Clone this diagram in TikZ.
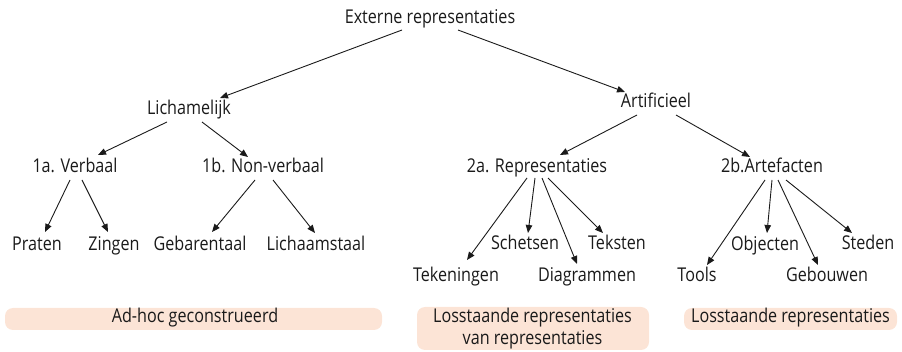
\documentclass[tikz,border=0pt]{standalone}
\usepackage{fontspec}
\setmainfont{Open Sans}[FakeStretch=0.85]
\usetikzlibrary{arrows.meta}
\definecolor{ink}{HTML}{1A1A1A}
\definecolor{peach}{HTML}{FCE4D6}
\tikzset{
  lbl/.style={anchor=base, inner sep=0pt, text=ink, font=\fontsize{19}{22}\selectfont},
  link/.style={draw=ink, line width=0.9pt, -{Triangle[length=8pt,width=6.5pt]}},
  band/.style={fill=peach, rounded corners=8pt},
  bandtext/.style={lbl, align=center},
}
% arrow from node #1 (offset #2) to node #3 (offset #4), offsets taken from the text base point
\newcommand{\arrowlink}[4]{\draw[link] ([shift={(#2)}]#1.base) -- ([shift={(#4)}]#3.base);}
\begin{document}
\begin{tikzpicture}[x=1pt,y=-1pt]
\useasboundingbox (0,0) rectangle (902,352);

% tree labels
\node[lbl] (ext)  at (430,24)  {Externe representaties};
\node[lbl] (lich) at (189,115) {Lichamelijk};
\node[lbl] (art)  at (656,108) {Artificieel};
\node[lbl] (verb) at (75,173)  {1a. Verbaal};
\node[lbl] (nonv) at (263,173) {1b. Non-verbaal};
\node[lbl] (repr) at (537,173) {2a. Representaties};
\node[lbl] (arte) at (772,173) {2b.Artefacten};
\node[lbl] (prat) at (37,251)  {Praten};
\node[lbl] (zing) at (114,251) {Zingen};
\node[lbl] (geba) at (200,251) {Gebarentaal};
\node[lbl] (lcht) at (316,251) {Lichaamstaal};
\node[lbl] (sche) at (525,250) {Schetsen};
\node[lbl] (teks) at (617,250) {Teksten};
\node[lbl] (teke) at (456,282) {Tekeningen};
\node[lbl] (diag) at (587,282) {Diagrammen};
\node[lbl] (obje) at (765,251) {Objecten};
\node[lbl] (sted) at (868,250) {Steden};
\node[lbl] (tool) at (697,282) {Tools};
\node[lbl] (gebo) at (827,282) {Gebouwen};

% connectors
\arrowlink{ext}{-28,6}{lich}{31,-17}
\arrowlink{ext}{28,6}{art}{-31,-16}
\arrowlink{lich}{-22,7}{verb}{23,-18}
\arrowlink{lich}{13,7}{nonv}{-15,-16}
\arrowlink{art}{-19,7}{repr}{23,-18}
\arrowlink{art}{20,7}{arte}{-22,-16}
\arrowlink{verb}{-5,7}{prat}{8,-19}
\arrowlink{verb}{7,7}{zing}{-6,-19}
\arrowlink{nonv}{-8,7}{geba}{12,-19}
\arrowlink{nonv}{10,7}{lcht}{-1,-18}
\arrowlink{repr}{-10,5}{teke}{11,-22}
\arrowlink{repr}{-2,5}{sche}{3,-17}
\arrowlink{repr}{5,5}{diag}{-10,-18}
\arrowlink{repr}{11,5}{teks}{-14,-17}
\arrowlink{arte}{-7,7}{tool}{10,-17}
\arrowlink{arte}{0,7}{obje}{2,-18}
\arrowlink{arte}{6,7}{gebo}{-9,-17}
\arrowlink{arte}{14,7}{sted}{-16,-17}

% category bands
\path[band] (5,308) rectangle (382,330);
\path[band] (417,307) rectangle (649,350);
\path[band] (684,308) rectangle (897,330);
\node[bandtext] (adhoc) at (195,323) {Ad-hoc geconstrueerd};
\node[bandtext] (losvan) at (532.5,323) {Losstaande representaties};
\node[bandtext] (losvan2) at (532.5,345) {van representaties};
\node[bandtext] (los) at (790.5,323) {Losstaande representaties};
\end{tikzpicture}
\end{document}
